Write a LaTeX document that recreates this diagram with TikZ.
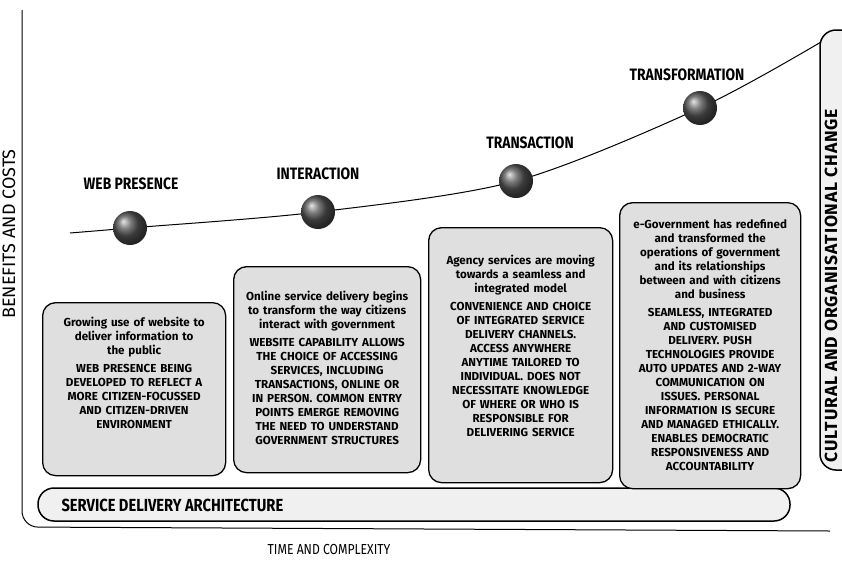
\documentclass[tikz,border=0pt]{standalone}
\usepackage{fontspec}
\setmainfont{Fira Sans}
\newfontfamily\narrowfont[FakeStretch=0.84]{Fira Sans}
\usetikzlibrary{positioning}

\tikzset{
  stage/.style={font=\narrowfont\bfseries\fontsize{16.5}{18}\selectfont},
  sphere/.style={circle,minimum size=34pt,inner sep=0pt,shading=ball,ball color=gray!65!black},
  infobox/.style={draw,line width=1.3pt,rounded corners=13pt,fill=gray!25,inner sep=0pt,anchor=north west},
  infotext/.style={align=center,text width=#1,inner sep=0pt,font=\bfseries\fontsize{11.6}{14}\selectfont},
}

\begin{document}
\begin{tikzpicture}[x=1pt,y=-1pt]
  \useasboundingbox (0,0) rectangle (842,565);
  \clip (0,0) rectangle (842,565);

  % axes
  \draw[line width=1pt,rounded corners=16pt] (22,10) -- (22,527) -- (830,531);
  \node[rotate=90,font=\fontsize{18}{20}\selectfont] (yaxis) at (9,234) {BENEFITS AND COSTS};
  \node[font=\narrowfont\fontsize{14.5}{16}\selectfont] (xaxis) at (329,549) {TIME AND COMPLEXITY};

  % side bars
  \draw[line width=1.5pt,rounded corners=16pt,fill=gray!12] (38,488) rectangle (790,521);
  \node[anchor=west,font=\narrowfont\bfseries\fontsize{17.5}{19}\selectfont] (sda) at (58,505) {SERVICE DELIVERY ARCHITECTURE};
  \draw[line width=1.5pt,rounded corners=16pt,fill=gray!12] (820,30) rectangle (870,470);
  \node[rotate=90,anchor=west,font=\bfseries\fontsize{17.5}{19}\addfontfeature{LetterSpace=5}\selectfont] (coc) at (831,466) {CULTURAL AND ORGANISATIONAL CHANGE};

  % curve through the stages
  \coordinate (c0) at (70,233);
  \coordinate (c1) at (130,228);
  \coordinate (c2) at (318,212);
  \coordinate (c3) at (516,181);
  \coordinate (c4) at (700,108);
  \coordinate (c5) at (821,42);
  \draw[line width=1pt] plot[smooth,tension=0.5] coordinates {(c0) (c1) (c2) (c3) (c4) (c5)};

  \node[sphere] (s1) at (c1) {};
  \node[sphere] (s2) at (c2) {};
  \node[sphere] (s3) at (c3) {};
  \node[sphere] (s4) at (c4) {};

  \node[stage] (l1) at (131,184) {WEB PRESENCE};
  \node[stage] (l2) at (318,174) {INTERACTION};
  \node[stage] (l3) at (530,143) {TRANSACTION};
  \node[stage] (l4) at (687,75) {TRANSFORMATION};

  % stage boxes
  \node[infobox,minimum width=183pt,minimum height=173pt] (b1) at (42,302) {};
  \node[infobox,minimum width=187pt,minimum height=206pt] (b2) at (233,266) {};
  \node[infobox,minimum width=184pt,minimum height=255pt] (b3) at (428,227) {};
  \node[infobox,minimum width=181pt,minimum height=286pt] (b4) at (619,202) {};

  \node[infotext=178pt,anchor=north] (t1) at ([yshift=-15pt]b1.north) {Growing use of website to\\ deliver information to\\ the public\\[4pt]
    WEB PRESENCE BEING\\ DEVELOPED TO REFLECT A\\ MORE CITIZEN-FOCUSSED\\ AND CITIZEN-DRIVEN\\ ENVIRONMENT};
  \node[infotext=184pt,anchor=north] (t2) at ([yshift=-25pt]b2.north) {Online service delivery begins\\ to transform the way citizens\\ interact with government\\[4pt]
    WEBSITE CAPABILITY ALLOWS\\ THE CHOICE OF ACCESSING\\ SERVICES, INCLUDING\\ TRANSACTIONS, ONLINE OR\\ IN PERSON. COMMON ENTRY\\ POINTS EMERGE REMOVING\\ THE NEED TO UNDERSTAND\\ GOVERNMENT STRUCTURES};
  \node[infotext=180pt,anchor=north] (t3) at ([yshift=-28pt]b3.north) {Agency services are moving\\ towards a seamless and\\ integrated model\\[4pt]
    CONVENIENCE AND CHOICE\\ OF INTEGRATED SERVICE\\ DELIVERY CHANNELS.\\ ACCESS ANYWHERE\\ ANYTIME TAILORED TO\\ INDIVIDUAL. DOES NOT\\ NECESSITATE KNOWLEDGE\\ OF WHERE OR WHO IS\\ RESPONSIBLE FOR\\ DELIVERING SERVICE};
  \node[infotext=178pt,anchor=north] (t4) at ([yshift=-17pt]b4.north) {e-Government has redefined\\ and transformed the\\ operations of government\\ and its relationships\\ between and with citizens\\ and business\\[4pt]
    SEAMLESS, INTEGRATED\\ AND CUSTOMISED\\ DELIVERY. PUSH\\ TECHNOLOGIES PROVIDE\\ AUTO UPDATES AND 2-WAY\\ COMMUNICATION ON\\ ISSUES. PERSONAL\\ INFORMATION IS SECURE\\ AND MANAGED ETHICALLY.\\ ENABLES DEMOCRATIC\\ RESPONSIVENESS AND\\ ACCOUNTABILITY};
\end{tikzpicture}
\end{document}
